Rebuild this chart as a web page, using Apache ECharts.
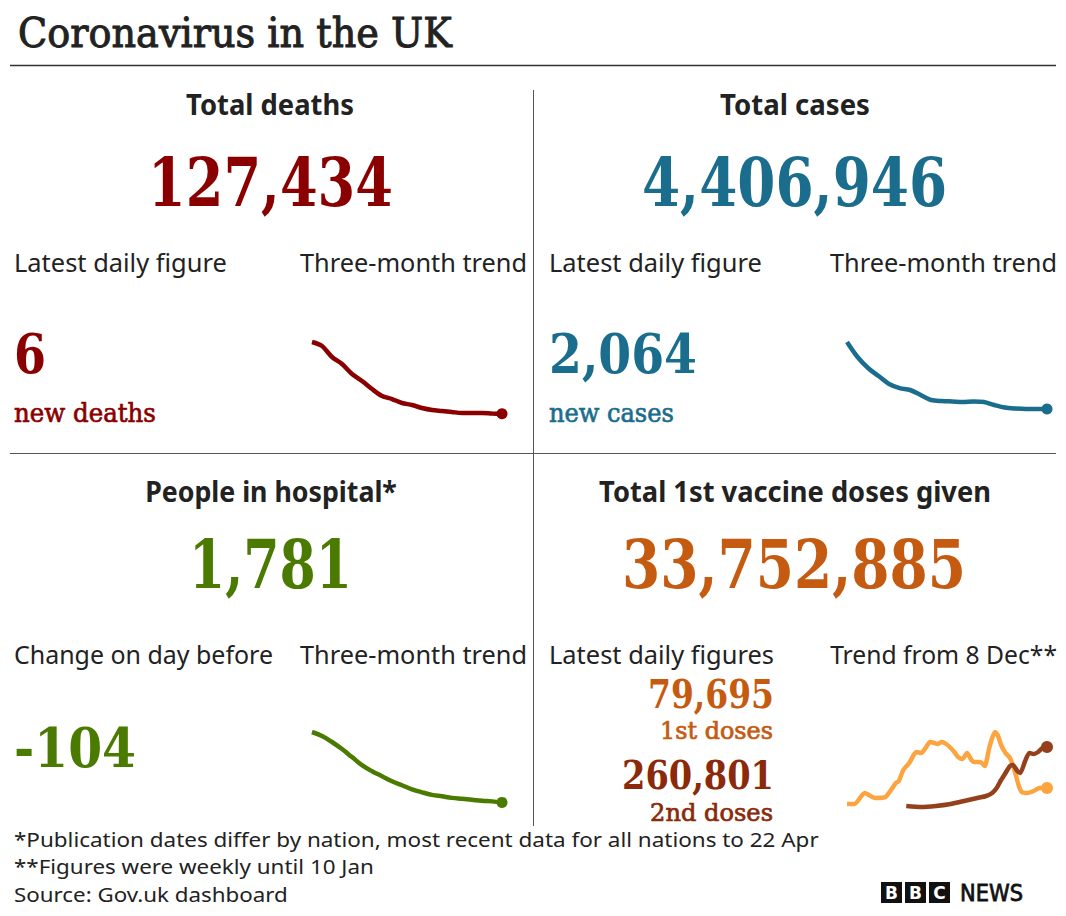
<!DOCTYPE html>
<html>
<head>
<meta charset="utf-8">
<script src="https://cdn.jsdelivr.net/npm/echarts@6/dist/echarts.min.js"></script>
<style>
html,body{margin:0;padding:0;background:#fff;}
#chart{width:1066px;height:916px;}
</style>
</head>
<body>
<div id="chart"></div>
<script>
// ---- Data ----
const deathsTrend = [1270, 1200, 1009, 887, 713, 592, 452, 331, 278, 209, 174, 122, 87, 70, 52, 35, 35, 35, 26, 20];
const casesTrend = [35000, 27600, 22200, 18240, 14300, 12300, 11340, 8870, 6400, 5900, 5670, 5420, 5670, 5420, 3940, 2710, 2220, 1970, 1970, 1970];
const hospitalTrend = [37000, 35000, 32000, 28470, 24450, 20420, 17400, 14900, 12370, 10360, 8350, 6840, 5580, 4830, 4070, 3570, 3070, 2570, 2310, 1810];
const firstDoseDays = [0, 5, 12, 19, 26, 33, 35, 38, 42, 45, 47, 50, 53, 56, 59, 61, 64, 67, 70, 73, 75, 78, 81, 84, 86, 89, 91, 93, 96, 98, 100, 102, 104, 107, 110, 113, 116, 118, 122, 126, 130, 135];
const firstDoses = [17600, 17600, 66000, 44000, 48400, 110000, 118800, 167200, 198000, 233200, 246400, 242000, 264000, 290400, 286000, 281600, 290400, 281600, 264000, 242000, 224400, 215600, 242000, 211200, 202400, 202400, 198000, 184800, 264000, 308000, 334400, 316800, 277200, 242000, 220000, 167200, 96800, 70400, 66000, 74800, 88000, 88000];
const secondDoseDays = [40, 50, 60, 70, 76, 82, 88, 94, 98, 101, 104, 107, 110, 112, 115, 117, 120, 123, 126, 129, 132, 135];
const secondDoses = [8800, 4400, 8800, 17600, 26400, 35200, 44000, 52800, 66000, 88000, 123200, 154000, 184800, 189200, 162800, 154000, 202400, 242000, 237600, 246400, 264000, 268400];

const headline = {
  deaths: '127,434', cases: '4,406,946', hospital: '1,781', vaccine: '33,752,885',
  newDeaths: '6', newCases: '2,064', hospChange: '-104', firstDaily: '79,695', secondDaily: '260,801'
};

// ---- Styling ----
const C = {
  dark: '#222222', red: '#8a0000', teal: '#1b6d8d', green: '#4a7a00',
  orange: '#c55a11', brown: '#8a2a0b', lineOrange: '#fca440', lineBrown: '#95401c'
};
const SANS = '"Noto Sans", "Open Sans", sans-serif';
const SERIF = '"DejaVu Serif", serif';
const SLAB = '"DejaVu Serif Condensed", "DejaVu Serif", serif';

const measureCtx = document.createElement('canvas').getContext('2d');
function measure(text, font) { measureCtx.font = font; return measureCtx.measureText(text).width; }

// text element: (x, y) = anchor; w = target rendered width (text squeezed/stretched to it)
function txt(x, y, text, size, color, opts) {
  opts = opts || {};
  const font = (opts.weight || 'normal') + ' ' + size + 'px ' + (opts.family || SANS);
  const style = { text: text, fill: color, font: font, textAlign: opts.align || 'left', textVerticalAlign: 'middle' };
  if (opts.thicken) { style.stroke = color; style.lineWidth = opts.thicken; }
  const el = { type: 'text', x: x, y: y, silent: true, style: style };
  if (opts.w) {
    const m = measure(text, font);
    if (m > 0) el.scaleX = opts.w / m;
  }
  return el;
}
function hline(x1, x2, y, w, color) {
  return { type: 'line', silent: true, shape: { x1: x1, y1: y, x2: x2, y2: y }, style: { stroke: color, lineWidth: w } };
}
function vline(x, y1, y2, w, color) {
  return { type: 'line', silent: true, shape: { x1: x, y1: y1, x2: x, y2: y2 }, style: { stroke: color, lineWidth: w } };
}
function endDot(arr) {
  return arr.map((v, i) => i === arr.length - 1 ? { value: v, symbol: 'circle', symbolSize: 11 } : v);
}
function endDotPairs(days, vals) {
  return days.map((d, i) => i === days.length - 1 ? { value: [d, vals[i]], symbol: 'circle', symbolSize: 12 } : [d, vals[i]]);
}

const B = 'bold';
const graphics = [
  txt(18, 33, 'Coronavirus in the UK', 41, C.dark, { family: SERIF, w: 434, thicken: 1 }),
  hline(10, 1056, 65.5, 1.5, '#333'),
  vline(533.5, 90, 826, 1, '#555'),
  hline(10, 1056, 453.5, 1, '#555'),

  txt(270, 104, 'Total deaths', 29, C.dark, { weight: B, align: 'center', w: 168 }),
  txt(270.5, 182, headline.deaths, 68, C.red, { family: SLAB, weight: B, align: 'center', w: 245 }),
  txt(14, 262, 'Latest daily figure', 26, C.dark, { w: 213 }),
  txt(527, 262, 'Three-month trend', 26, C.dark, { align: 'right', w: 227 }),
  txt(14, 354, headline.newDeaths, 54, C.red, { family: SLAB, weight: B, w: 32 }),
  txt(14, 413, 'new deaths', 26, C.red, { family: SERIF, w: 142, thicken: 0.7 }),

  txt(795, 104, 'Total cases', 29, C.dark, { weight: B, align: 'center', w: 150 }),
  txt(794.5, 182, headline.cases, 68, C.teal, { family: SLAB, weight: B, align: 'center', w: 305 }),
  txt(549, 262, 'Latest daily figure', 26, C.dark, { w: 213 }),
  txt(1057, 262, 'Three-month trend', 26, C.dark, { align: 'right', w: 227 }),
  txt(549, 354, headline.newCases, 54, C.teal, { family: SLAB, weight: B, w: 148 }),
  txt(549, 413, 'new cases', 26, C.teal, { family: SERIF, w: 125, thicken: 0.7 }),

  txt(271, 491, 'People in hospital*', 29, C.dark, { weight: B, align: 'center', w: 252 }),
  txt(270.5, 564, headline.hospital, 68, C.green, { family: SLAB, weight: B, align: 'center', w: 163 }),
  txt(14, 654, 'Change on day before', 26, C.dark, { w: 259 }),
  txt(527, 654, 'Three-month trend', 26, C.dark, { align: 'right', w: 227 }),
  txt(14, 748, headline.hospChange, 54, C.green, { family: SLAB, weight: B, w: 122 }),

  txt(795, 491, 'Total 1st vaccine doses given', 29, C.dark, { weight: B, align: 'center', w: 392 }),
  txt(794, 564, headline.vaccine, 68, C.orange, { family: SLAB, weight: B, align: 'center', w: 344 }),
  txt(549, 654, 'Latest daily figures', 26, C.dark, { w: 225 }),
  txt(1057, 654, 'Trend from 8 Dec**', 26, C.dark, { align: 'right', w: 227 }),
  txt(774, 694, headline.firstDaily, 39, C.orange, { family: SLAB, weight: B, align: 'right', w: 126 }),
  txt(773, 731, '1st doses', 24, C.orange, { family: SERIF, align: 'right', w: 113, thicken: 0.7 }),
  txt(774, 775, headline.secondDaily, 39, C.brown, { family: SLAB, weight: B, align: 'right', w: 152 }),
  txt(773, 813, '2nd doses', 24, C.brown, { family: SERIF, align: 'right', w: 123, thicken: 0.7 }),

  txt(14, 839, '*Publication dates differ by nation, most recent data for all nations to 22 Apr', 20, C.dark, { w: 805 }),
  txt(14, 866, '**Figures were weekly until 10 Jan', 20, C.dark, { w: 360 }),
  txt(14, 894, 'Source: Gov.uk dashboard', 20, C.dark, { w: 274 }),

  // BBC NEWS logo
  { type: 'rect', silent: true, shape: { x: 881, y: 882, width: 21, height: 21 }, style: { fill: '#111' } },
  { type: 'rect', silent: true, shape: { x: 905, y: 882, width: 21, height: 21 }, style: { fill: '#111' } },
  { type: 'rect', silent: true, shape: { x: 929, y: 882, width: 21, height: 21 }, style: { fill: '#111' } },
  txt(891.5, 893, 'B', 17, '#fff', { weight: B, align: 'center', family: '"DejaVu Sans", sans-serif' }),
  txt(915.5, 893, 'B', 17, '#fff', { weight: B, align: 'center', family: '"DejaVu Sans", sans-serif' }),
  txt(939.5, 893, 'C', 17, '#fff', { weight: B, align: 'center', family: '"DejaVu Sans", sans-serif' }),
  txt(960, 893, 'NEWS', 23, '#111', { family: '"DejaVu Sans", sans-serif', w: 63, thicken: 0.8 })
];

function hiddenAxis(type, grid, extra) {
  return Object.assign({
    type: type, gridIndex: grid, show: false,
    axisLine: { show: false }, axisTick: { show: false }, axisLabel: { show: false }, splitLine: { show: false }
  }, extra || {});
}
const idx = (arr) => arr.map((_, i) => i);

const option = {
  animation: false,
  backgroundColor: '#fff',
  graphic: graphics,
  grid: [
    { left: 312, top: 342, width: 190, height: 73 },
    { left: 847, top: 342, width: 200, height: 71 },
    { left: 312, top: 732, width: 190, height: 74 },
    { left: 847, top: 732, width: 200, height: 76 }
  ],
  xAxis: [
    hiddenAxis('category', 0, { data: idx(deathsTrend), boundaryGap: false }),
    hiddenAxis('category', 1, { data: idx(casesTrend), boundaryGap: false }),
    hiddenAxis('category', 2, { data: idx(hospitalTrend), boundaryGap: false }),
    hiddenAxis('value', 3, { min: 0, max: 135 })
  ],
  yAxis: [
    hiddenAxis('value', 0, { min: 0, max: 'dataMax' }),
    hiddenAxis('value', 1, { min: 0, max: 'dataMax' }),
    hiddenAxis('value', 2, { min: 0, max: 'dataMax' }),
    hiddenAxis('value', 3, { min: 0, max: 'dataMax' })
  ],
  series: [
    { type: 'line', xAxisIndex: 0, yAxisIndex: 0, data: endDot(deathsTrend), symbol: 'none', showSymbol: true, smooth: 0.3,
      lineStyle: { color: C.red, width: 4.5 }, itemStyle: { color: C.red }, silent: true },
    { type: 'line', xAxisIndex: 1, yAxisIndex: 1, data: endDot(casesTrend), symbol: 'none', showSymbol: true, smooth: 0.3,
      lineStyle: { color: C.teal, width: 4.5 }, itemStyle: { color: C.teal }, silent: true },
    { type: 'line', xAxisIndex: 2, yAxisIndex: 2, data: endDot(hospitalTrend), symbol: 'none', showSymbol: true, smooth: 0.4,
      lineStyle: { color: C.green, width: 4.5 }, itemStyle: { color: C.green }, silent: true },
    { type: 'line', xAxisIndex: 3, yAxisIndex: 3, data: endDotPairs(firstDoseDays, firstDoses), symbol: 'none', showSymbol: true, smooth: 0.2,
      lineStyle: { color: C.lineOrange, width: 4.5 }, itemStyle: { color: C.lineOrange }, silent: true },
    { type: 'line', xAxisIndex: 3, yAxisIndex: 3, data: endDotPairs(secondDoseDays, secondDoses), symbol: 'none', showSymbol: true, smooth: 0.2,
      lineStyle: { color: C.lineBrown, width: 4.5 }, itemStyle: { color: C.lineBrown }, silent: true }
  ]
};

const chart = echarts.init(document.getElementById('chart'), null, { renderer: 'svg', width: 1066, height: 916 });
chart.setOption(option);
</script>
</body>
</html>
